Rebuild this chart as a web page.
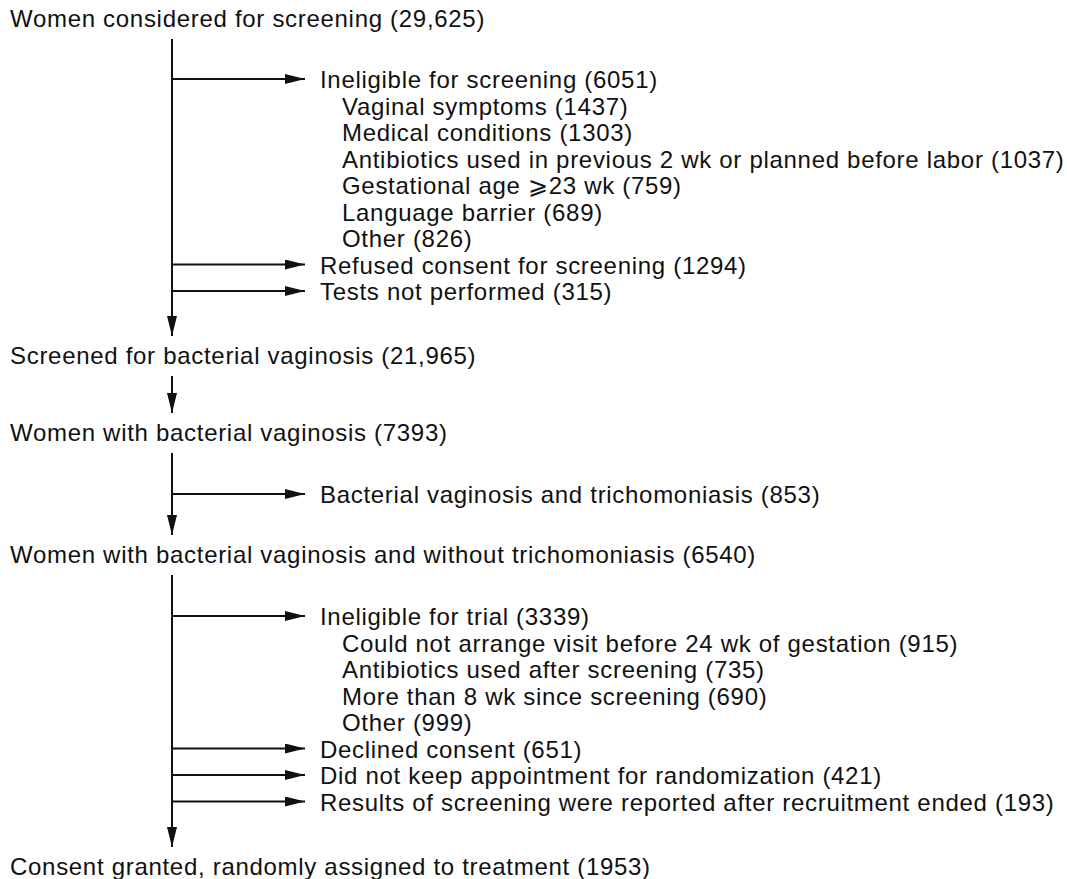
<!DOCTYPE html>
<html>
<head>
<meta charset="utf-8">
<script src="https://cdn.jsdelivr.net/npm/d3@7"></script>
<style>
  body { margin: 0; background: #fff; }
  text { font-family: "Liberation Sans", Arial, sans-serif; font-size: 24px; letter-spacing: 0.7px; fill: #111; }
</style>
</head>
<body>
<div id="flow"></div>
<script>
// main steps of the trial flow
const stepLabels = [
  "Women considered for screening",
  "Screened for bacterial vaginosis",
  "Women with bacterial vaginosis",
  "Women with bacterial vaginosis and without trichomoniasis",
  "Consent granted, randomly assigned to treatment",
];
const stepCounts = [29625, 21965, 7393, 6540, 1953];

// exclusions between step i and step i+1
const screeningExclusions = [
  { label: "Ineligible for screening", n: 6051, sub: [
    ["Vaginal symptoms", 1437],
    ["Medical conditions", 1303],
    ["Antibiotics used in previous 2 wk or planned before labor", 1037],
    ["Gestational age \u2A7E23 wk", 759],
    ["Language barrier", 689],
    ["Other", 826],
  ] },
  { label: "Refused consent for screening", n: 1294, sub: [] },
  { label: "Tests not performed", n: 315, sub: [] },
];
const bvExclusions = [];
const trichExclusions = [
  { label: "Bacterial vaginosis and trichomoniasis", n: 853, sub: [] },
];
const trialExclusions = [
  { label: "Ineligible for trial", n: 3339, sub: [
    ["Could not arrange visit before 24 wk of gestation", 915],
    ["Antibiotics used after screening", 735],
    ["More than 8 wk since screening", 690],
    ["Other", 999],
  ] },
  { label: "Declined consent", n: 651, sub: [] },
  { label: "Did not keep appointment for randomization", n: 421, sub: [] },
  { label: "Results of screening were reported after recruitment ended", n: 193, sub: [] },
];
const exclusions = [screeningExclusions, bvExclusions, trichExclusions, trialExclusions];

// layout
const width = 1067;
const height = 879;
const spineX = 172;
const textX = 10;
const branchTextX = 320;
const subIndent = 22;
const rowH = 26.5;
const mainY = [27, 364, 441, 563, 875];     // baselines of main step text
const firstBranchY = [79, null, 494, 616];  // y of first branch arrow

const fmt = (n) => (n >= 10000 ? d3.format(",")(n) : String(n));

const svg = d3
  .select("#flow")
  .append("svg")
  .attr("width", width)
  .attr("height", height)
  .attr("viewBox", [0, 0, width, height]);

const defs = svg.append("defs");
defs
  .append("marker")
  .attr("id", "head")
  .attr("viewBox", "0 0 20 10")
  .attr("refX", 20)
  .attr("refY", 5)
  .attr("markerWidth", 20)
  .attr("markerHeight", 10)
  .attr("markerUnits", "userSpaceOnUse")
  .attr("orient", "auto")
  .append("path")
  .attr("d", "M0,0 L20,5 L0,10 Z")
  .attr("fill", "#111");

// main step labels
svg
  .selectAll("text.step")
  .data(stepLabels)
  .join("text")
  .attr("class", "step")
  .attr("x", textX)
  .attr("y", (d, i) => mainY[i])
  .text((d, i) => `${d} (${fmt(stepCounts[i])})`);

const lines = svg.append("g").attr("stroke", "#111").attr("stroke-width", 2).attr("fill", "none");

exclusions.forEach((group, i) => {
  const y0 = mainY[i] + 12;
  const y1 = mainY[i + 1] - 28;
  // spine
  lines
    .append("line")
    .attr("x1", spineX)
    .attr("x2", spineX)
    .attr("y1", y0)
    .attr("y2", y1)
    .attr("marker-end", "url(#head)");

  if (!group.length) return;

  // flatten rows: headings and sub items
  const rows = [];
  group.forEach((g) => {
    rows.push({ text: `${g.label} (${fmt(g.n)})`, head: true });
    g.sub.forEach((s) => rows.push({ text: `${s[0]} (${fmt(s[1])})`, head: false }));
  });
  const y = d3
    .scaleLinear()
    .domain([0, 1])
    .range([firstBranchY[i], firstBranchY[i] + rowH]);

  rows.forEach((r, k) => {
    if (r.head) {
      lines
        .append("line")
        .attr("x1", spineX)
        .attr("x2", 305)
        .attr("y1", y(k))
        .attr("y2", y(k))
        .attr("marker-end", "url(#head)");
    }
    svg
      .append("text")
      .attr("x", r.head ? branchTextX : branchTextX + subIndent)
      .attr("y", y(k) + 9)
      .text(r.text);
  });
});
</script>
</body>
</html>
